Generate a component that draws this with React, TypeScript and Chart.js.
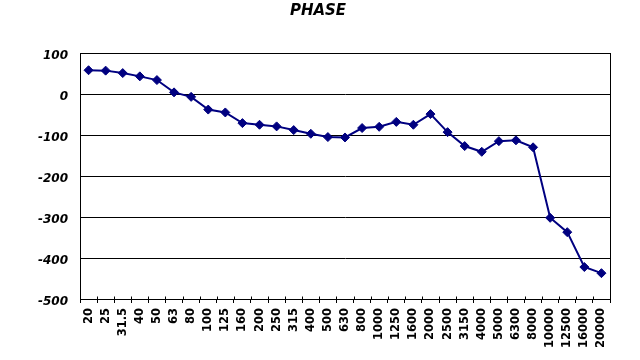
import React, { useEffect, useRef } from "react";
import { Chart, registerables } from "chart.js";

Chart.register(...registerables);

const categories = [
  "20", "25", "31.5", "40", "50", "63", "80", "100", "125", "160", "200",
  "250", "315", "400", "500", "630", "800", "1000", "1250", "1600", "2000",
  "2500", "3150", "4000", "5000", "6300", "8000", "10000", "12500", "16000", "20000",
];

const phase = [
  58, 57, 51, 43, 34, 4, -7, -38, -45, -71, -75,
  -79, -88, -97, -105, -106, -83, -80, -68, -75, -49,
  -93, -127, -141, -115, -113, -130, -302, -337, -422, -437,
];

const yMin = -500;
const yMax = 100;
const yStep = 100;
const titleText = "PHASE";

const FONT = "'DejaVu Sans', 'Liberation Sans', Arial, sans-serif";

const frame = {
  id: "frame",
  afterDraw(chart: any) {
    const { ctx, chartArea } = chart;
    ctx.save();
    ctx.strokeStyle = "#000";
    ctx.lineWidth = 1;
    const l = Math.round(chartArea.left) + 0.5;
    const t = Math.round(chartArea.top) + 0.5;
    const r = Math.round(chartArea.right) + 0.5;
    const b = Math.round(chartArea.bottom) + 0.5;
    ctx.strokeRect(l, t, r - l, b - t);
    // upper half of the category tick marks (crossing the axis)
    const xs = chart.scales.x;
    const n = categories.length;
    const w = (xs.right - xs.left) / n;
    ctx.beginPath();
    for (let i = 0; i <= n; i++) {
      const x = Math.round(xs.left + i * w) + 0.5;
      ctx.moveTo(x, b - 3);
      ctx.lineTo(x, b);
    }
    ctx.stroke();
    // title
    ctx.fillStyle = "#000";
    ctx.font = `italic bold 15px ${FONT}`;
    ctx.textAlign = "center";
    ctx.textBaseline = "middle";
    ctx.fillText(titleText, 318, 11);
    ctx.restore();
  },
};

export default function App() {
  const ref = useRef<HTMLCanvasElement | null>(null);
  useEffect(() => {
    if (!ref.current) return;
    const chart = new Chart(ref.current, {
      type: "line",
      data: {
        labels: categories,
        datasets: [
          {
            data: phase,
            borderColor: "#000080",
            backgroundColor: "#000080",
            borderWidth: 2,
            pointStyle: "rectRot",
            pointRadius: 4.5,
            pointBackgroundColor: "#000080",
            pointBorderColor: "#000080",
            pointBorderWidth: 1,
            tension: 0,
          },
        ],
      },
      options: {
        animation: false,
        responsive: false,
        layout: { padding: { left: 0, right: 30, top: 53, bottom: 0 } },
        plugins: {
          legend: { display: false },
          tooltip: { enabled: false },
          title: { display: false },
        },
        scales: {
          x: {
            type: "category",
            offset: true,
            afterFit: (s: any) => { s.height = 61; },
            grid: {
              offset: true,
              drawOnChartArea: false,
              drawTicks: true,
              tickLength: 4,
              color: "#000",
            },
            border: { display: true, color: "#000", width: 1 },
            ticks: {
              autoSkip: false,
              minRotation: 90,
              maxRotation: 90,
              padding: 5,
              color: "#000",
              font: { family: FONT, size: 11.5, weight: "bold" },
            },
          },
          y: {
            min: yMin,
            max: yMax,
            afterFit: (s: any) => { s.width = 80; },
            grid: { color: "#000", lineWidth: 1, drawTicks: false },
            border: { display: true, color: "#000" },
            ticks: {
              stepSize: yStep,
              padding: 12,
              labelOffset: 3,
              color: "#000",
              font: { family: FONT, size: 12, weight: "bold", style: "italic" },
            },
          },
        },
      },
      plugins: [frame],
    });
    return () => chart.destroy();
  }, []);
  return (
    <div style={{ position: "fixed", left: 0, top: 0, width: 640, height: 360, background: "#fff" }}>
      <canvas ref={ref} width={640} height={360} />
    </div>
  );
}
